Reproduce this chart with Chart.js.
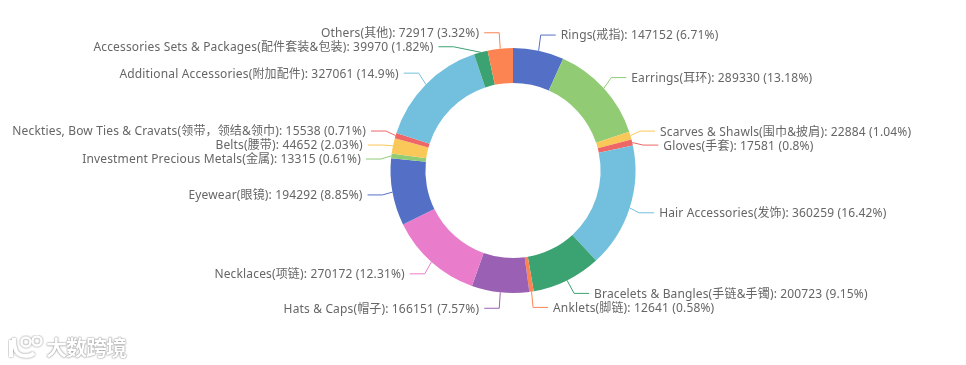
<!DOCTYPE html>
<html>
<head>
<meta charset="utf-8">
<script src="https://cdn.jsdelivr.net/npm/chart.js@4"></script>
<style>
html, body { margin: 0; padding: 0; background: #fff; }
#wrap { position: relative; width: 966px; height: 365px; overflow: hidden; }
#mark { position: absolute; left: 46px; top: 331px; font: bold 21px "Noto Sans CJK SC"; color: #fff;
  letter-spacing: -1px; text-shadow: 0 0 2px #888, 0 0 1px #888; }
#logo { position: absolute; left: 8px; top: 335px; }
</style>
</head>
<body>
<div id="wrap">
  <canvas id="ringChart" width="966" height="365"></canvas>
  <svg id="logo" width="36" height="26" fill="none" stroke="#fff">
    <g style="filter: drop-shadow(0 0 1px #888)">
      <path d="M3 5 V22 M6 3 C6 14 8 21 18 21 C22 21 24 20 26 18" stroke-width="4"/>
      <circle cx="18" cy="7" r="4.5" stroke-width="2.5"/>
      <circle cx="29" cy="6" r="4.5" stroke-width="2.5"/>
    </g>
  </svg>
  <div id="mark">大数跨境</div>
</div>
<script>
var categories = ['Rings(戒指)', 'Earrings(耳环)', 'Scarves & Shawls(围巾&披肩)', 'Gloves(手套)',
    'Hair Accessories(发饰)', 'Bracelets & Bangles(手链&手镯)', 'Anklets(脚链)', 'Hats & Caps(帽子)',
    'Necklaces(项链)', 'Eyewear(眼镜)', 'Investment Precious Metals(金属)', 'Belts(腰带)',
    'Neckties, Bow Ties & Cravats(领带，领结&领巾)', 'Additional Accessories(附加配件)',
    'Accessories Sets & Packages(配件套装&包装)', 'Others(其他)'];
var salesValues = [147152, 289330, 22884, 17581, 360259, 200723, 12641, 166151,
    270172, 194292, 13315, 44652, 15538, 327061, 39970, 72917];
var percents = [6.71, 13.18, 1.04, 0.8, 16.42, 9.15, 0.58, 7.57,
    12.31, 8.85, 0.61, 2.03, 0.71, 14.9, 1.82, 3.32];
var sliceColors = ['#5470c6', '#91cc75', '#fac858', '#ee6666', '#73c0de', '#3ba272', '#fc8452', '#9a60b4',
    '#ea7ccc', '#5470c6', '#91cc75', '#fac858', '#ee6666', '#73c0de', '#3ba272', '#fc8452'];

// outside labels with elbow lines, shifted apart where they would collide
var sliceLabels = {
    id: 'sliceLabels',
    afterDatasetsDraw: function(chart) {
        var c = chart.ctx;
        var arcs = chart.getDatasetMeta(0).data;
        var rowGap = 14, rx = 10, ry = 16, hLine = 15, textGap = 5;
        var items = arcs.map(function(arc, i) {
            var p = arc.getProps(['x', 'y', 'startAngle', 'endAngle', 'outerRadius']);
            var mid = (p.startAngle + p.endAngle) / 2;
            return {
                i: i, cx: p.x, cy: p.y, r: p.outerRadius, cos: Math.cos(mid), sin: Math.sin(mid),
                y: p.y + (p.outerRadius + ry) * Math.sin(mid)
            };
        });

        [1, -1].forEach(function(side) {
            var list = items.filter(function(it) { return (it.cos >= 0 ? 1 : -1) === side; });
            list.sort(function(a, b) { return a.y - b.y; });
            var top = list.filter(function(it) { return it.y < it.cy; });
            var bottom = list.filter(function(it) { return it.y >= it.cy; });
            for (var a = 1; a < top.length; a++) {
                if (top[a].y - top[a - 1].y < rowGap) top[a].y = top[a - 1].y + rowGap;
            }
            for (var b = bottom.length - 2; b >= 0; b--) {
                if (bottom[b + 1].y - bottom[b].y < rowGap) bottom[b].y = bottom[b + 1].y - rowGap;
            }
        });

        c.save();
        c.font = '12px "Noto Sans", "Noto Sans CJK SC"';
        c.letterSpacing = '0.15px';
        c.textBaseline = 'middle';
        items.forEach(function(it) {
            var side = it.cos >= 0 ? 1 : -1;
            var rA = it.r + rx, rB = it.r + ry;
            var dy = Math.min(Math.abs(it.y - it.cy), rB);
            var elbowX = it.cx + side * rA * Math.sqrt(1 - dy * dy / (rB * rB));
            c.beginPath();
            c.moveTo(it.cx + it.r * it.cos, it.cy + it.r * it.sin);
            c.lineTo(elbowX, it.y);
            c.lineTo(elbowX + side * hLine, it.y);
            c.strokeStyle = sliceColors[it.i];
            c.lineWidth = 1;
            c.stroke();
            c.fillStyle = '#666';
            c.textAlign = side > 0 ? 'left' : 'right';
            c.fillText(categories[it.i] + ': ' + salesValues[it.i] + ' (' + percents[it.i] + '%)',
                elbowX + side * (hLine + textGap), it.y + 1);
        });
        c.restore();
    }
};

var ctx = document.getElementById('ringChart').getContext('2d');
var ringChart = new Chart(ctx, {
    type: 'doughnut',
    data: {
        labels: categories,
        datasets: [{
            data: salesValues,
            backgroundColor: sliceColors,
            borderWidth: 0
        }]
    },
    options: {
        responsive: false,
        animation: false,
        cutout: '71.5%',
        layout: {
            padding: { left: 390, right: 330, top: 48, bottom: 72 }
        },
        plugins: {
            legend: { display: false },
            tooltip: { enabled: false }
        }
    },
    plugins: [sliceLabels]
});
</script>
</body>
</html>
